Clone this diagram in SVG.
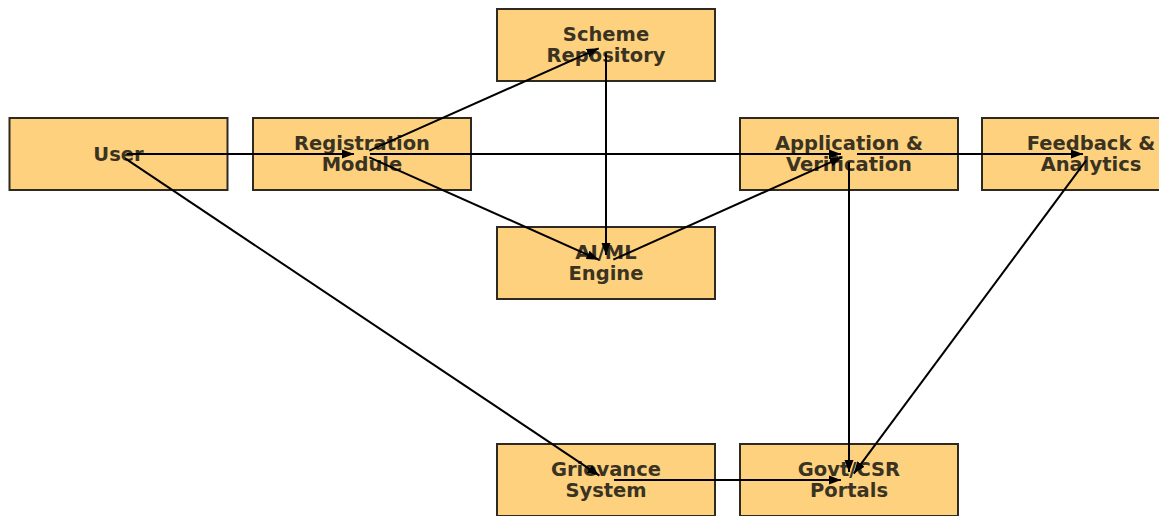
<svg xmlns="http://www.w3.org/2000/svg" width="1159" height="516" viewBox="0 0 1159 516">
<style>
.box{fill:#FED17E;stroke:#2e2a22;stroke-width:2}
.lbl{font-family:"DejaVu Sans",sans-serif;font-weight:bold;font-size:19.5px;fill:#3a3322;text-anchor:middle;dominant-baseline:central}
.edge{stroke:#000000;stroke-width:2;fill:none;marker-end:url(#ah)}
</style>
<defs>
<marker id="ah" markerUnits="userSpaceOnUse" markerWidth="14" markerHeight="10" refX="12" refY="5" orient="auto">
<path d="M0,0.5 L12,5 L0,9.5 Z" fill="#000000"/>
</marker>
</defs>
<rect width="1159" height="516" fill="#ffffff"/>
<g id="node-user"><rect class="box" x="9.5" y="118" width="218" height="72"/><text class="lbl" x="118.5" y="154">User</text></g>
<g id="node-registration"><rect class="box" x="253" y="118" width="218" height="72"/><text class="lbl" x="362" y="143">Registration</text><text class="lbl" x="362" y="164">Module</text></g>
<g id="node-scheme"><rect class="box" x="497" y="9" width="218" height="72"/><text class="lbl" x="606" y="34">Scheme</text><text class="lbl" x="606" y="55">Repository</text></g>
<g id="node-aiml"><rect class="box" x="497" y="227" width="218" height="72"/><text class="lbl" x="606" y="252">AI/ML</text><text class="lbl" x="606" y="273">Engine</text></g>
<g id="node-application"><rect class="box" x="740" y="118" width="218" height="72"/><text class="lbl" x="849" y="143">Application &amp;</text><text class="lbl" x="849" y="164">Verification</text></g>
<g id="node-feedback"><rect class="box" x="982" y="118" width="218" height="72"/><text class="lbl" x="1091" y="143">Feedback &amp;</text><text class="lbl" x="1091" y="164">Analytics</text></g>
<g id="node-grievance"><rect class="box" x="497" y="444" width="218" height="72"/><text class="lbl" x="606" y="469">Grievance</text><text class="lbl" x="606" y="490">System</text></g>
<g id="node-govt"><rect class="box" x="740" y="444" width="218" height="72"/><text class="lbl" x="849" y="469">Govt/CSR</text><text class="lbl" x="849" y="490">Portals</text></g>
<g id="connectors">
<line class="edge" x1="126.5" y1="154" x2="354" y2="154"/>
<line class="edge" x1="370" y1="154" x2="841" y2="154"/>
<line class="edge" x1="857" y1="154" x2="1083" y2="154"/>
<line class="edge" x1="369.3" y1="150.7" x2="598.7" y2="48.3"/>
<line class="edge" x1="369.3" y1="157.3" x2="598.7" y2="259.7"/>
<line class="edge" x1="606" y1="53" x2="606" y2="255"/>
<line class="edge" x1="613.3" y1="259.7" x2="841.7" y2="157.3"/>
<line class="edge" x1="849" y1="162" x2="849" y2="472"/>
<line class="edge" x1="1086.2" y1="160.4" x2="853.8" y2="473.6"/>
<line class="edge" x1="125.1" y1="158.4" x2="599.4" y2="475.6"/>
<line class="edge" x1="614" y1="480" x2="841" y2="480"/>
</g>
</svg>
